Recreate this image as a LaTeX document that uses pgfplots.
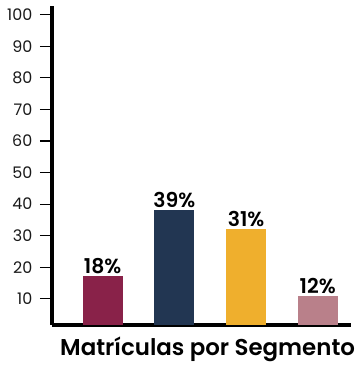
\documentclass[border=0pt]{standalone}
\usepackage{pgfplots}
\pgfplotsset{compat=1.18}
\usepackage{fontspec}
\setmainfont{Poppins}[BoldFont={Poppins SemiBold}]
\definecolor{c1}{RGB}{137,34,73}
\definecolor{c2}{RGB}{34,54,82}
\definecolor{c3}{RGB}{239,175,45}
\definecolor{c4}{RGB}{185,128,138}
\begin{document}
\begin{tikzpicture}
\begin{axis}[
  scale only axis,
  width=301pt, height=320pt,
  xmin=-0.71, xmax=3.47,
  ymin=1.8, ymax=102.8,
  axis x line=bottom, axis y line=left,
  axis line style={-, line width=4pt, black},
  ytick={10,20,...,100},
  xtick=\empty,
  tick align=outside,
  tick style={black, line width=1.1pt},
  major tick length=12pt,
  y tick label style={font=\fontsize{16}{16}\selectfont, text=black!90, xshift=-4pt},
  /pgf/number format/assume math mode=true,
  bar width=40pt,
  point meta=explicit symbolic,
  nodes near coords,
  nodes near coords style={font=\fontsize{20.5}{20.5}\selectfont\bfseries, anchor=south, inner sep=1pt, yshift=1pt, text=black},
  clip=false,
]
\addplot[ybar, fill=c1, draw=none, bar shift=0pt] coordinates {(0,17.3) [18\%]};
\addplot[ybar, fill=c2, draw=none, bar shift=0pt] coordinates {(1,38.1) [39\%]};
\addplot[ybar, fill=c3, draw=none, bar shift=0pt] coordinates {(2,32.1) [31\%]};
\addplot[ybar, fill=c4, draw=none, bar shift=0pt] coordinates {(3,11.0) [12\%]};
\node[anchor=base, font=\fontsize{23}{23}\selectfont\bfseries, yshift=-31pt] at (rel axis cs:0.52,0) {Matrículas por Segmento};
\end{axis}
\path[use as bounding box] (-52pt,-39pt) rectangle (301pt,326pt);
\end{tikzpicture}
\end{document}
